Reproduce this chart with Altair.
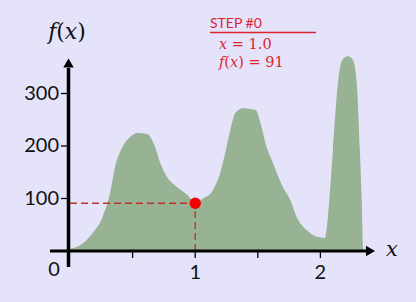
import altair as alt
import pandas as pd

# ---------------- data ----------------
curve_x = [0.00, 0.08, 0.18, 0.26, 0.32, 0.36, 0.415, 0.48, 0.54, 0.615, 0.68, 0.72,
           0.775, 0.855, 0.935, 1.00, 1.06, 1.13, 1.20, 1.24, 1.28, 1.32, 1.38, 1.48,
           1.53, 1.56, 1.62, 1.70, 1.76, 1.81, 1.89, 1.97, 2.035, 2.06, 2.10, 2.14,
           2.175, 2.22, 2.26, 2.29, 2.315, 2.33, 2.34, 2.345]
curve_y = [4, 11, 34, 65, 110, 160, 196, 217, 225, 223, 198, 168,
           141, 122, 107, 91, 100, 112, 149, 187, 230, 263, 272, 269,
           236, 206, 168, 122, 97, 65, 40, 27, 25, 65, 192, 320,
           364, 371, 364, 320, 192, 97, 8, 0]

x_ticks = [0.5, 1.0, 1.5, 2.0]
x_tick_labels = ["", "1", "", "2"]
y_ticks = [100, 200, 300]
y_tick_labels = ["100", "200", "300"]

step = 0
x_cur = 1.0
f_cur = 91

# ---------------- layout / style ----------------
W, H = 416, 302
PX_X = 125.2   # pixels per x unit
X0 = 70        # pixel of x = 0
PX_Y = 0.525   # pixels per y unit
Y0 = 251       # pixel of y = 0

BG = "#E5E3FA"
GREEN = "#98B294"
RED_TXT = "#DC2430"
RED_DOT = "#F20000"
RED_DASH = "#C0302B"
MATH_FONT = "DejaVu Serif"

xs = alt.Scale(domain=[-X0 / PX_X, (W - X0) / PX_X], nice=False, zero=False)
ys = alt.Scale(domain=[-(H - Y0) / PX_Y, Y0 / PX_Y], nice=False, zero=False)

one = pd.DataFrame({"a": [0]})
curve_df = pd.DataFrame({"x": curve_x, "y": curve_y})
xt_df = pd.DataFrame({"t": x_ticks, "lab": x_tick_labels})
yt_df = pd.DataFrame({"t": y_ticks, "lab": y_tick_labels})
cur_df = pd.DataFrame({"x": [x_cur], "f": [f_cur]})


def XF(f):
    return alt.X(f, type="quantitative", scale=xs, axis=None)


def YF(f):
    return alt.Y(f, type="quantitative", scale=ys, axis=None)


def seg(x1, x2, y1, y2):
    """one-row helper: a segment given in data units"""
    return alt.Chart(one).transform_calculate(
        xa=str(x1), xb=str(x2), ya=str(y1), yb=str(y2)
    )


area = alt.Chart(curve_df).mark_area(color=GREEN, interpolate="monotone", opacity=1).encode(
    x=XF("x"), y=YF("y")
)

# axes lines
x_line = seg(-20 / PX_X, 296 / PX_X, 0, 0).mark_rule(color="black", strokeWidth=3).encode(
    x=XF("xa"), x2="xb:Q", y=YF("ya")
)
y_line = seg(-1.5 / PX_X, -1.5 / PX_X, -16 / PX_Y, 183 / PX_Y).mark_rule(
    color="black", strokeWidth=3.5).encode(x=XF("xa"), y=YF("ya"), y2="yb:Q")
x_arrow = seg(300.5 / PX_X, 0, 0, 0).mark_point(
    shape="triangle-right", filled=True, size=110, color="black", opacity=1
).encode(x=XF("xa"), y=YF("ya"))
y_arrow = seg(-1.5 / PX_X, 0, 188 / PX_Y, 0).mark_point(
    shape="triangle-up", filled=True, size=110, color="black", opacity=1
).encode(x=XF("xa"), y=YF("ya"))

# ticks
x_tick_marks = alt.Chart(xt_df).transform_calculate(
    ya="0", yb=str(-7 / PX_Y)
).mark_rule(color="black", strokeWidth=1.3).encode(
    x=XF("t"), y=YF("ya"), y2="yb:Q"
)
y_tick_marks = alt.Chart(yt_df).transform_calculate(
    xa=str(-9 / PX_X), xb="0"
).mark_rule(color="black", strokeWidth=1.3).encode(
    y=YF("t"), x=XF("xa"), x2="xb:Q"
)

x_tick_text = alt.Chart(xt_df).transform_calculate(ya="0").mark_text(
    font="Lato", fontSize=20, color="#111111", baseline="middle", align="center", dy=22
).encode(x=XF("t"), y=YF("ya"), text="lab:N")
y_tick_text = alt.Chart(yt_df).transform_calculate(xa="0").mark_text(
    font="Lato", fontSize=20, color="#111111", baseline="middle", align="right", dx=-11
).encode(y=YF("t"), x=XF("xa"), text="lab:N")
zero_text = seg(0, 0, 0, 0).mark_text(
    font="Lato", fontSize=20, color="#111111", baseline="middle", align="center", dx=-16, dy=19
).encode(x=XF("xa"), y=YF("ya"), text=alt.value("0"))

# axis titles
x_title = alt.Chart(one).mark_text(font=MATH_FONT, fontSize=21,
                                   color="#111111", baseline="middle", align="center").encode(
    x=alt.value(392), y=alt.value(250), text=alt.value("𝑥")
)
y_title = alt.Chart(one).mark_text(font=MATH_FONT, fontSize=22,
                                   color="#111111", baseline="middle", align="center").encode(
    x=alt.value(67), y=alt.value(32), text=alt.value("𝑓(𝑥)")
)

# current step guides
h_dash = alt.Chart(cur_df).transform_calculate(zero="0").mark_rule(
    color=RED_DASH, strokeWidth=1.3, strokeDash=[7, 4]
).encode(x=XF("zero"), x2="x:Q", y=YF("f"))
v_dash = alt.Chart(cur_df).transform_calculate(zero="0").mark_rule(
    color=RED_DASH, strokeWidth=1.3, strokeDash=[7, 4]
).encode(x=XF("x"), y=YF("zero"), y2="f:Q")
dot = alt.Chart(cur_df).mark_circle(color=RED_DOT, size=130, opacity=1).encode(
    x=XF("x"), y=YF("f")
)

# annotation block
step_text = alt.Chart(one).mark_text(font="Lato", fontSize=14, color=RED_TXT,
                                     align="left", baseline="middle").encode(
    x=alt.value(210), y=alt.value(24), text=alt.value(f"STEP #{step}")
)
underline = alt.Chart(one).mark_rule(color=RED_TXT, strokeWidth=1.4).encode(
    x=alt.value(210), x2=alt.value(316), y=alt.value(32.5)
)
xval_text = alt.Chart(one).mark_text(font=MATH_FONT, fontSize=14.5,
                                     color=RED_TXT, align="left", baseline="middle").encode(
    x=alt.value(219), y=alt.value(45), text=alt.value(f"𝑥 = {x_cur:.1f}")
)
fval_text = alt.Chart(one).mark_text(font=MATH_FONT, fontSize=14.5,
                                     color=RED_TXT, align="left", baseline="middle").encode(
    x=alt.value(219), y=alt.value(63), text=alt.value(f"𝑓(𝑥) = {f_cur}")
)

chart = alt.layer(
    area, h_dash, v_dash, x_line, y_line, x_arrow, y_arrow,
    x_tick_marks, y_tick_marks, x_tick_text, y_tick_text, zero_text,
    x_title, y_title, dot, step_text, underline, xval_text, fval_text,
).properties(
    width=W, height=H, padding=0, autosize="none", background=BG
).configure_view(stroke=None)

chart.save("out.html", embed_options={"renderer": "svg", "actions": False})
